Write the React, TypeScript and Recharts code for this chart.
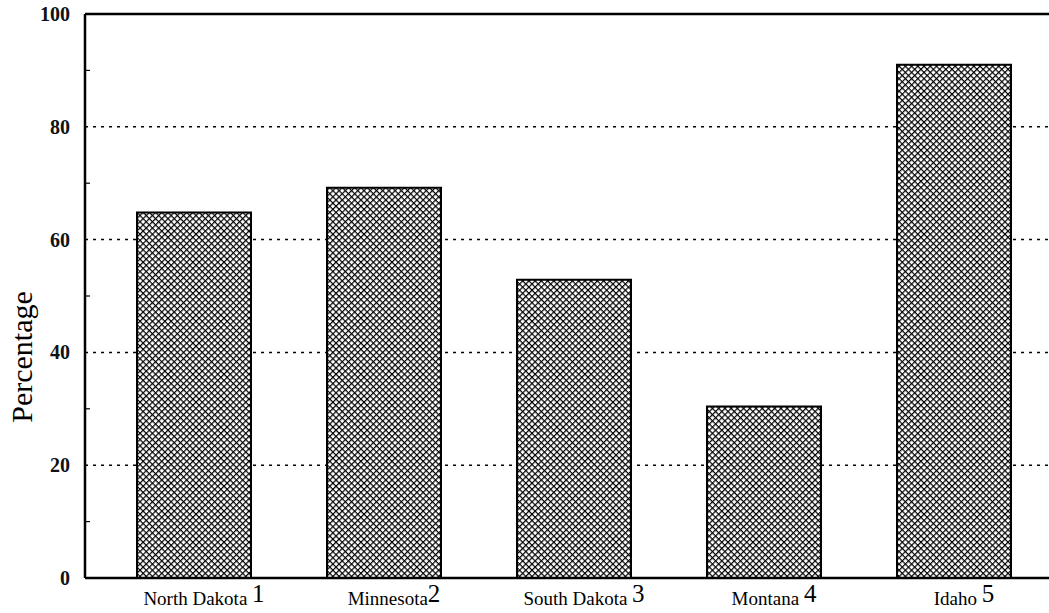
import { BarChart, Bar, XAxis, YAxis, CartesianGrid, ReferenceLine, Label } from "recharts"

const states = ["North Dakota", "Minnesota", "South Dakota", "Montana", "Idaho"]
const stateNumbers = ["1", "2", "3", "4", "5"]
const percentages = [64.8, 69.2, 52.9, 30.4, 91.0]
const yTicks = [0, 10, 20, 30, 40, 50, 60, 70, 80, 90, 100]

const data = states.map((s, i) => ({ name: s, num: stateNumbers[i], value: percentages[i] }))

const font = "'Liberation Serif', 'Times New Roman', serif"

function XTick(props: any) {
  const { x, y, payload, index } = props
  const gap = index === 1 ? "" : "\u00a0"
  return (
    <text x={x + 10} y={y + 19} textAnchor="middle" fontFamily={font} fill="#000">
      <tspan fontSize={19}>{payload.value + gap}</tspan>
      <tspan fontSize={25} dy={-3}>{stateNumbers[index]}</tspan>
    </text>
  )
}

function YTick(props: any) {
  const { x, y, payload } = props
  const v = payload.value
  if (v % 20 !== 0) {
    return <line x1={x + 8} x2={x + 13} y1={y} y2={y} stroke="#000" strokeWidth={1.2} />
  }
  return (
    <text x={x - 7} y={y + 7} textAnchor="end" fontFamily={font} fontSize={20} fontWeight="bold" fill="#111">
      {v}
    </text>
  )
}

export default function App() {
  return (
    <div style={{ position: "fixed", left: 0, top: 0, background: "#fff" }}>
      <BarChart
        width={1049}
        height={613}
        data={data}
        margin={{ top: 14, right: 0, bottom: 0, left: 0 }}
        barCategoryGap="20%"
      >
        <defs>
          <pattern id="xhatch" width="4.4" height="4.4" patternUnits="userSpaceOnUse" patternTransform="rotate(45)">
            <rect width="4.4" height="4.4" fill="#fff" />
            <line x1="0" y1="0" x2="0" y2="4.4" stroke="#000" strokeWidth={2.4} />
            <line x1="0" y1="0" x2="4.4" y2="0" stroke="#000" strokeWidth={2.4} />
          </pattern>
        </defs>
        <CartesianGrid
          vertical={false}
          horizontalValues={[20, 40, 60, 80]}
          stroke="#000"
          strokeWidth={1.5}
          strokeDasharray="3 5"
        />
        <ReferenceLine y={100} stroke="#000" strokeWidth={2.5} ifOverflow="extendDomain" />
        <XAxis
          dataKey="name"
          height={35}
          axisLine={{ stroke: "#000", strokeWidth: 2.5 }}
          tickLine={false}
          interval={0}
          padding={{ left: 14, right: 0 }}
          tick={<XTick />}
        />
        <YAxis
          width={85}
          domain={[0, 100]}
          ticks={yTicks}
          interval={0}
          axisLine={{ stroke: "#000", strokeWidth: 2.5 }}
          tickLine={false}
          tick={<YTick />}
        >
          <Label
            content={() => (
              <text
                x={32}
                y={357}
                transform="rotate(-90 32 357)"
                textAnchor="middle"
                fontFamily={font}
                fontSize={30}
                fill="#000"
              >
                Percentage
              </text>
            )}
          />
        </YAxis>
        <Bar dataKey="value" fill="url(#xhatch)" stroke="#000" strokeWidth={2} isAnimationActive={false} />
      </BarChart>
    </div>
  )
}
